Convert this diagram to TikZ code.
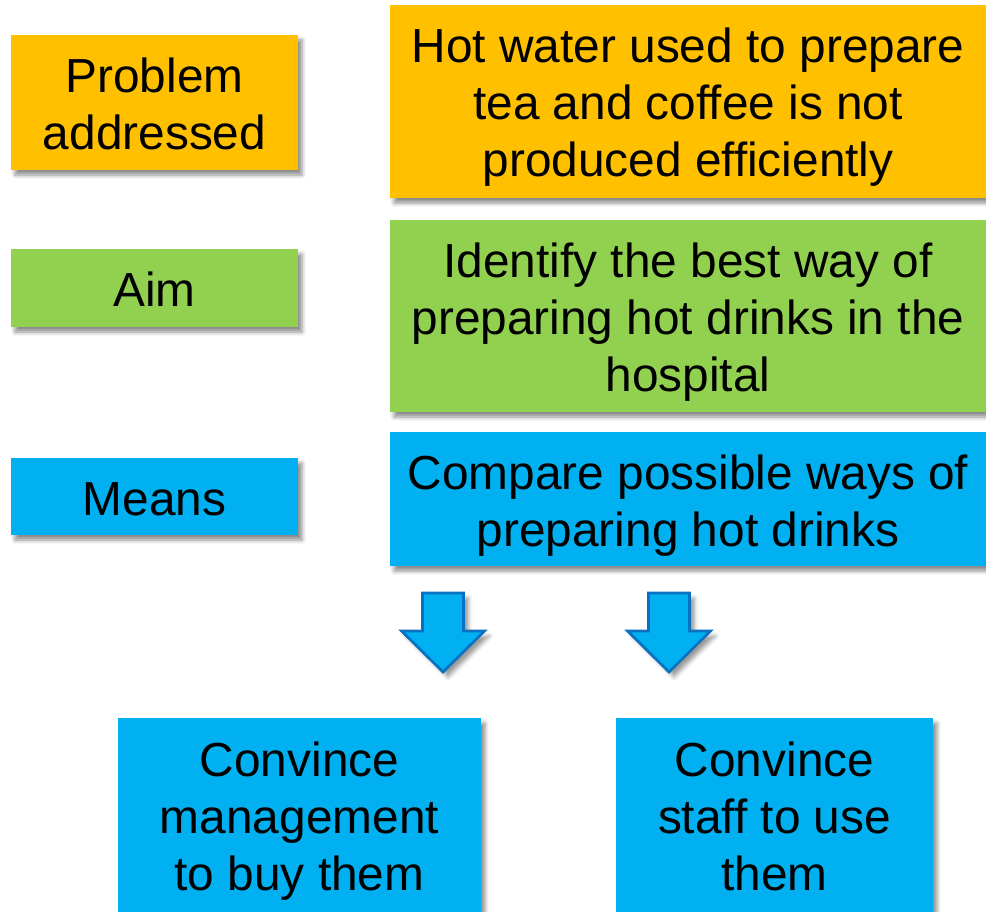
\documentclass[tikz,border=0pt]{standalone}
\usepackage{fontspec}
\setmainfont{Liberation Sans}
\usepackage{tikz}
\usetikzlibrary{shadows.blur}

\definecolor{boxorange}{RGB}{255,192,0}
\definecolor{boxgreen}{RGB}{146,208,80}
\definecolor{boxblue}{RGB}{0,176,240}
\definecolor{arrowline}{RGB}{10,112,192}

\begin{document}
\begin{tikzpicture}[x=1pt,y=-1pt,
        box/.style={rectangle,align=center,inner sep=0pt,
            font=\fontsize{47.8}{57}\selectfont,text height=47pt,text depth=10pt,
            blur shadow={shadow xshift=4pt,shadow yshift=-5pt,shadow blur radius=4pt,shadow opacity=45}},
        twolines/.style={text height=104pt},
        threelines/.style={text height=161pt},
        blockarrow/.style={draw=arrowline,line width=2.6pt,fill=boxblue,line join=miter,
            blur shadow={shadow xshift=5pt,shadow yshift=-5pt,shadow blur radius=4pt,shadow opacity=40}}]
        \useasboundingbox (0,0) rectangle (986,912);
        % left column
        \node[box,twolines,fill=boxorange,minimum width=287pt,minimum height=135pt] (prob) at (154.5,102.5) {Problem\\addressed};
        \node[box,fill=boxgreen,minimum width=287pt,minimum height=78pt] (aim) at (154.5,288) {Aim};
        \node[box,fill=boxblue,minimum width=287pt,minimum height=77pt] (means) at (154.5,496.5) {Means};
        % right column
        \node[box,threelines,fill=boxorange,minimum width=596pt,minimum height=193pt] (probtext) at (688,101.5) {Hot water used to prepare\\tea and coffee is not\\produced efficiently};
        \node[box,threelines,fill=boxgreen,minimum width=596pt,minimum height=192pt] (aimtext) at (688,316) {Identify the best way of\\preparing hot drinks in the\\hospital};
        \node[box,twolines,fill=boxblue,minimum width=596pt,minimum height=134pt] (meanstext) at (688,499) {Compare possible ways of\\preparing hot drinks};
        % block arrows
        \foreach \ax in {443,669}
            \draw[blockarrow] (\ax-20.5,593) -- (\ax+20.5,593) -- (\ax+20.5,631) -- (\ax+41.5,631)
                -- (\ax,672) -- (\ax-41.5,631) -- (\ax-20.5,631) -- cycle;
        % bottom boxes
        \node[box,threelines,fill=boxblue,minimum width=363pt,minimum height=194pt] (convmgmt) at (299.5,815) {Convince\\management\\to buy them};
        \node[box,threelines,fill=boxblue,minimum width=317pt,minimum height=194pt] (convstaff) at (774.5,815) {Convince\\staff to use\\them};
\end{tikzpicture}
\end{document}
